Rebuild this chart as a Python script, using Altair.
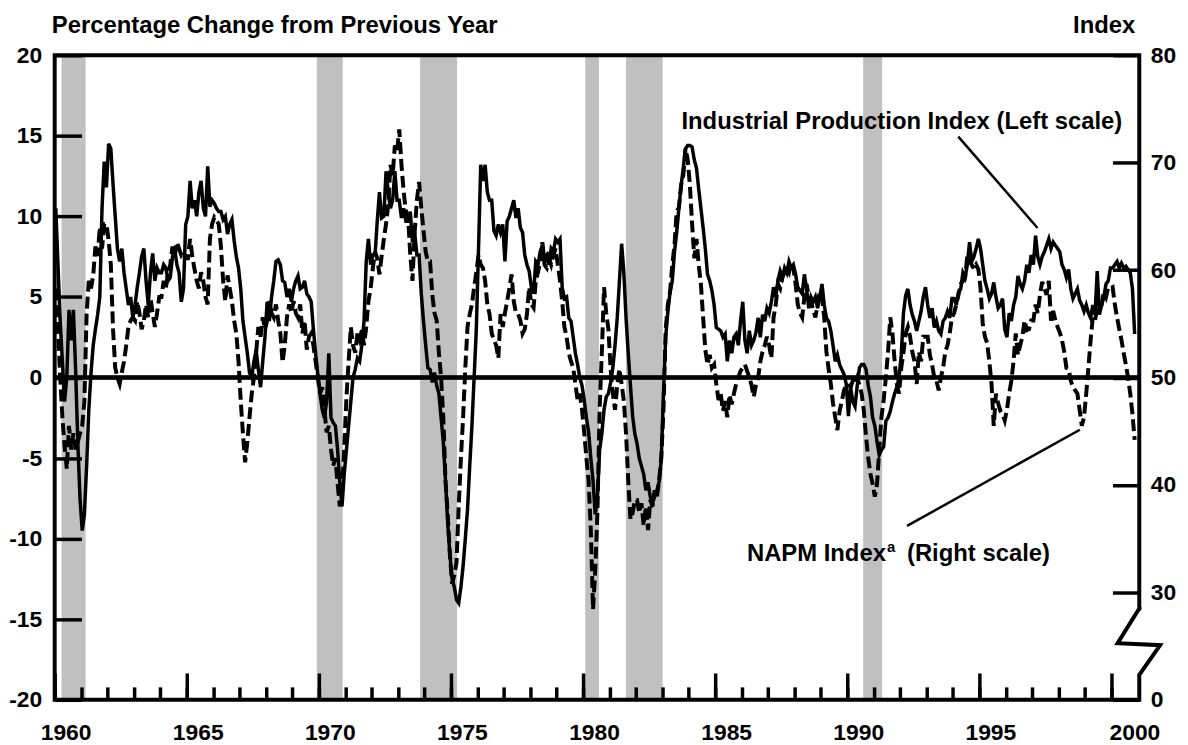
import altair as alt
import pandas as pd

# ---------------- data ----------------
START_YEAR = 1960  # monthly observations, Jan 1960 ... Nov 2000

# Industrial Production Index, % change from previous year (left scale)
ip_growth = [
    10.5, 7.0, 3.5, 1.0, -1.5, 0.0, 4.2, 2.3, 4.2, 0.5, -4.0, -7.5,        # 1960
    -9.5, -8.5, -5.5, -2.0, 0.3, 2.0, 3.0, 3.9, 5.0, 10.5, 13.4, 11.8,      # 1961
    14.5, 14.2, 12.0, 10.0, 8.0, 7.2, 8.0, 6.5, 5.5, 4.5, 5.0, 3.7,         # 1962
    4.5, 5.6, 6.5, 7.5, 8.0, 6.0, 4.5, 6.5, 7.7, 6.0, 6.8, 6.5,             # 1963
    6.5, 7.0, 6.8, 6.0, 6.2, 7.5, 8.0, 7.0, 6.5, 4.7, 5.5, 9.5,             # 1964
    10.0, 12.2, 10.5, 11.0, 10.0, 11.5, 12.2, 10.5, 10.0, 13.1, 10.6, 11.0, # 1965
    10.8, 10.5, 10.3, 10.3, 9.8, 10.0, 8.9, 9.5, 9.8, 8.5, 7.5, 6.8,        # 1966
    5.5, 3.5, 2.5, 1.5, 0.3, 0.0, 1.0, 1.7, 0.5, -0.6, 1.0, 2.5,            # 1967
    4.7, 3.5, 5.0, 6.0, 7.2, 7.3, 7.0, 6.0, 5.9, 5.0, 5.5, 4.7,             # 1968
    5.5, 6.0, 6.3, 5.5, 5.6, 6.0, 5.2, 5.0, 4.7, 3.0, 1.5, 0.2,             # 1969
    -1.0, -2.0, -2.5, -1.5, 1.5, -2.5, -2.8, -3.0, -4.5, -6.5, -8.0, -6.0,  # 1970
    -4.5, -3.0, -1.5, 0.0, 0.5, 1.2, 1.0, 2.0, 3.5, 7.2, 8.6, 7.0,          # 1971
    7.6, 7.6, 9.7, 11.5, 9.9, 10.0, 12.8, 11.5, 10.5, 11.0, 12.8, 11.0,     # 1972
    11.0, 9.9, 10.5, 9.7, 9.7, 10.3, 8.4, 9.0, 7.6, 7.6, 5.2, 3.5,          # 1973
    2.0, 0.6, 0.5, -0.3, 0.3, -0.5, -1.0, -2.5, -4.0, -6.4, -9.0, -11.0,    # 1974
    -12.5, -13.0, -13.8, -14.0, -13.0, -11.7, -10.0, -8.2, -5.5, -3.0, 0.0, 3.0,  # 1975
    8.0, 13.2, 12.2, 13.2, 11.5, 11.0, 11.0, 9.1, 8.8, 9.5, 9.0, 9.5,       # 1976
    7.2, 9.7, 10.0, 10.5, 11.0, 9.9, 10.5, 9.3, 9.0, 7.6, 7.0, 6.6,         # 1977
    5.6, 5.2, 7.2, 7.0, 7.8, 8.2, 7.4, 7.6, 7.0, 8.0, 7.8, 8.6,             # 1978
    8.4, 8.6, 5.6, 4.9, 5.0, 3.7, 3.5, 2.5, 1.5, 0.8, 0.0, -0.5,            # 1979
    -1.4, -2.5, -3.4, -5.0, -6.4, -8.5, -7.5, -4.5, -3.5, -2.0, -1.2, -1.0, # 1980
    -0.3, 0.6, 2.0, 3.7, 6.0, 8.3, 6.5, 3.7, 1.5, -0.5, -2.4, -3.5,         # 1981
    -4.1, -5.0, -5.5, -6.0, -7.0, -6.5, -7.4, -7.8, -7.4, -7.0, -6.5, -5.1, # 1982
    -1.0, 2.5, 4.1, 5.3, 6.0, 7.8, 9.0, 10.5, 11.9, 13.0, 14.2, 14.4,       # 1983
    14.4, 14.3, 13.5, 13.0, 11.7, 10.5, 9.3, 8.0, 6.4, 6.0, 5.4, 4.5,       # 1984
    3.1, 3.0, 2.9, 2.5, 2.7, 1.0, 2.3, 1.5, 2.5, 2.7, 2.0, 3.5,             # 1985
    4.7, 2.3, 1.5, 2.9, 2.0, 2.3, 2.8, 3.7, 2.5, 3.9, 3.5, 4.3,             # 1986
    4.0, 4.7, 5.6, 5.0, 6.0, 6.6, 6.2, 6.8, 6.5, 7.2, 6.8, 7.0,             # 1987
    6.4, 5.6, 5.4, 5.2, 6.4, 5.5, 4.3, 5.0, 4.7, 5.0, 4.3, 5.0,             # 1988
    5.8, 4.5, 3.7, 3.5, 2.9, 2.0, 1.0, 1.4, 0.8, 0.5, 0.2, -0.4,            # 1989
    -2.4, -0.6, -1.5, -1.8, -0.5, 0.6, 0.8, 0.8, 0.5, -0.5, -1.2, -2.5,     # 1990
    -3.0, -4.0, -4.8, -4.5, -4.3, -2.7, -2.5, -2.1, -1.5, -1.0, -0.6, 0.0,  # 1991
    1.4, 4.0, 5.1, 5.5, 4.5, 3.9, 3.5, 2.9, 3.5, 4.1, 5.0, 5.6,             # 1992
    4.5, 3.7, 4.3, 3.1, 3.5, 2.9, 2.7, 3.5, 3.7, 4.1, 3.7, 4.9,             # 1993
    4.9, 4.5, 5.3, 5.5, 6.5, 6.2, 7.0, 8.4, 7.2, 7.5, 8.0, 8.6,             # 1994
    8.0, 7.0, 6.0, 5.5, 4.9, 5.2, 5.9, 5.0, 4.3, 4.5, 4.9, 3.0,             # 1995
    2.5, 4.0, 3.5, 4.5, 5.0, 6.3, 5.8, 5.5, 6.0, 7.0, 6.5, 7.6,             # 1996
    7.0, 8.8, 7.5, 7.0, 7.5, 7.8, 8.2, 8.6, 8.0, 8.4, 8.2, 8.0,             # 1997
    7.8, 7.0, 6.7, 6.2, 6.7, 5.5, 4.9, 5.2, 5.5, 4.8, 4.5, 4.1,             # 1998
    4.5, 4.0, 3.7, 4.5, 3.9, 6.6, 3.9, 4.5, 5.0, 5.8, 6.0, 6.8,             # 1999
    6.8, 7.0, 7.2, 6.8, 7.1, 6.8, 6.9, 6.7, 6.5, 5.5, 2.7,                  # 2000
]

# NAPM index (right scale)
napm_index = [
    58.3, 54.5, 50.0, 46.3, 43.6, 41.5, 45.5, 43.3, 44.8, 43.3, 44.0, 44.8,  # 1960
    45.5, 47.8, 55.9, 59.0, 58.3, 59.5, 62.2, 61.3, 64.0, 62.0, 64.3, 64.3,  # 1961
    62.8, 60.5, 54.5, 50.9, 50.0, 49.4, 50.5, 51.5, 53.0, 54.7, 55.3, 55.6,  # 1962
    55.3, 57.1, 56.0, 54.5, 55.3, 56.8, 55.6, 57.4, 56.0, 54.7, 56.0, 57.5,  # 1963
    57.5, 59.0, 58.3, 59.8, 60.5, 62.2, 61.3, 62.6, 62.0, 61.4, 61.7, 61.1,  # 1964
    61.1, 62.9, 61.3, 60.1, 59.0, 58.3, 59.8, 59.0, 57.5, 56.8, 62.9, 64.3,  # 1965
    64.9, 64.6, 64.3, 62.2, 59.0, 57.1, 59.5, 58.3, 57.1, 55.3, 54.1, 51.5,  # 1966
    47.8, 44.8, 42.1, 44.0, 46.3, 48.5, 50.0, 52.3, 54.7, 53.8, 55.6, 54.5,  # 1967
    55.3, 57.1, 56.0, 55.6, 56.8, 55.3, 54.1, 51.4, 53.0, 55.6, 56.8, 56.0,  # 1968
    57.1, 56.0, 55.6, 56.8, 54.1, 55.3, 52.6, 53.8, 54.1, 53.0, 51.5, 50.0,  # 1969
    48.5, 49.1, 47.0, 44.9, 45.5, 43.3, 41.8, 42.5, 40.1, 38.0, 39.5, 43.4,  # 1970
    48.1, 51.5, 54.7, 53.0, 52.3, 54.1, 53.5, 54.4, 53.0, 54.7, 57.1, 58.3,  # 1971
    60.2, 61.7, 61.1, 59.6, 61.3, 62.9, 64.3, 66.1, 69.8, 68.8, 71.6, 71.0,  # 1972
    73.1, 69.8, 67.3, 65.5, 65.0, 61.4, 59.0, 63.5, 66.5, 68.2, 65.8, 63.7,  # 1973
    61.7, 60.8, 60.8, 57.7, 56.0, 55.3, 52.3, 50.0, 46.3, 40.4, 37.3, 33.5,  # 1974
    30.8, 31.6, 32.8, 38.0, 42.5, 46.3, 50.9, 54.7, 55.9, 56.8, 58.4, 59.8,  # 1975
    61.4, 60.5, 60.2, 59.0, 56.8, 55.9, 54.1, 53.5, 53.0, 51.8, 55.9, 54.7,  # 1976
    56.0, 57.1, 58.3, 59.6, 57.1, 56.0, 55.9, 55.3, 54.1, 54.5, 55.9, 58.4,  # 1977
    56.8, 56.5, 59.0, 59.8, 60.8, 62.6, 60.5, 60.2, 61.1, 60.5, 61.4, 62.0,  # 1978
    60.5, 59.0, 57.1, 54.7, 53.8, 52.3, 51.5, 50.9, 49.4, 47.9, 48.5, 47.0,  # 1979
    44.9, 42.5, 40.4, 35.8, 28.4, 32.0, 37.4, 47.0, 52.3, 58.4, 56.0, 54.5,  # 1980
    50.8, 48.5, 47.0, 49.3, 50.8, 49.4, 47.8, 44.8, 40.4, 36.8, 37.4, 38.6,  # 1981
    38.6, 37.4, 38.3, 36.2, 38.0, 35.8, 38.6, 38.0, 39.5, 38.8, 40.4, 42.5,  # 1982
    47.0, 54.5, 56.8, 58.0, 60.5, 62.3, 65.5, 65.8, 67.9, 68.8, 71.3, 70.3,  # 1983
    67.9, 64.3, 61.1, 62.9, 60.5, 58.7, 55.6, 52.6, 51.2, 52.1, 50.9, 51.2,  # 1984
    49.4, 47.9, 48.5, 46.9, 47.8, 46.3, 48.4, 47.5, 48.5, 49.4, 50.0, 50.6,  # 1985
    50.9, 51.2, 50.6, 50.0, 49.3, 48.2, 49.3, 50.0, 51.5, 52.4, 53.0, 53.8,  # 1986
    53.0, 51.8, 55.6, 56.8, 58.7, 58.3, 59.3, 59.8, 60.2, 59.8, 60.8, 60.2,  # 1987
    58.7, 56.8, 56.0, 55.6, 57.5, 58.7, 57.5, 57.1, 56.3, 55.6, 56.8, 58.0,  # 1988
    57.5, 55.6, 52.4, 50.8, 49.4, 47.6, 46.3, 45.1, 46.9, 47.8, 48.8, 49.3,  # 1989
    49.4, 49.1, 49.7, 49.4, 50.0, 49.3, 48.5, 46.9, 44.5, 42.5, 41.0, 40.1,  # 1990
    38.9, 40.1, 43.3, 46.3, 47.9, 50.0, 52.4, 55.6, 54.1, 51.5, 49.4, 48.5,  # 1991
    50.9, 52.3, 54.1, 54.7, 53.8, 52.4, 51.5, 49.4, 52.4, 51.5, 53.8, 53.8,  # 1992
    53.8, 52.1, 51.2, 50.0, 49.7, 48.8, 50.0, 50.9, 52.4, 53.0, 54.1, 55.6,  # 1993
    56.0, 56.8, 57.7, 58.7, 59.0, 59.3, 61.4, 60.8, 60.5, 60.1, 60.5, 60.1,  # 1994
    58.3, 55.0, 53.8, 53.2, 51.5, 49.4, 45.5, 48.5, 47.6, 46.9, 46.6, 46.0,  # 1995
    47.0, 48.5, 49.7, 51.5, 54.1, 52.1, 53.0, 53.8, 55.3, 54.4, 54.5, 55.3,  # 1996
    55.3, 56.8, 56.0, 57.7, 58.9, 58.3, 57.7, 59.0, 55.3, 56.2, 55.3, 54.7,  # 1997
    54.2, 53.5, 52.4, 50.9, 50.8, 49.7, 49.1, 48.8, 48.5, 47.0, 45.5, 46.3,  # 1998
    48.5, 50.9, 53.5, 55.6, 55.3, 56.5, 56.8, 56.8, 58.0, 57.5, 58.4, 58.3,  # 1999
    58.4, 56.8, 55.6, 54.5, 53.5, 52.3, 51.2, 50.0, 48.5, 46.6, 44.2,        # 2000
]

# recessions (shaded), in fractional years
recession_start = [1960.26, 1969.92, 1973.83, 1980.08, 1981.62, 1990.60]
recession_end = [1961.17, 1970.90, 1975.23, 1980.60, 1983.01, 1991.32]

year_ticks = list(range(1960, 2001))
year_labels = list(range(1960, 2001, 5))
left_ticks = [-20, -15, -10, -5, 0, 5, 10, 15, 20]
right_ticks = [20, 30, 40, 50, 60, 70, 80]

# ---------------- tables ----------------
months = [START_YEAR + (i + 0.5) / 12 for i in range(len(ip_growth))]
series = pd.DataFrame({"year": months, "ip": ip_growth, "napm": napm_index})
recessions = pd.DataFrame({"start": recession_start, "end": recession_end})

X_MIN, X_MAX = 1960.0, 2001.05
FONT = "Liberation Sans"

x_scale = alt.Scale(domain=[X_MIN, X_MAX], nice=False, zero=False)
yl_scale = alt.Scale(domain=[-20, 20], nice=False, zero=False)
yr_scale = alt.Scale(domain=[20, 80], nice=False, zero=False)

minor_axis = alt.Axis(orient="bottom", values=year_ticks, tickSize=13, offset=-13,
                      labels=False, domain=False, grid=False, title=None,
                      tickColor="black", tickWidth=3.5, zindex=2)
major_axis = alt.Axis(orient="bottom", values=year_labels, tickSize=27, offset=-27,
                      labelPadding=22, format="d", domain=False, grid=False, title=None,
                      tickColor="black", tickWidth=3.5, zindex=2,
                      labelFont=FONT, labelFontWeight="bold", labelFontSize=23,
                      labelColor="black", labelBaseline="top", labelAlign="center",
                      labelOffset={"condition": {"test": "datum.value == 2000", "value": 23},
                                   "value": 11})
left_axis = alt.Axis(orient="left", values=left_ticks, tickSize=27, offset=-27,
                     labelPadding=13, domain=False, grid=False, title=None,
                     tickColor="black", tickWidth=3.5, zindex=2,
                     labelFont=FONT, labelFontWeight="bold", labelFontSize=23,
                     labelColor="black", labelExpr="'' + datum.value")
right_axis = alt.Axis(orient="right", values=right_ticks, tickSize=27, offset=-27,
                      labelPadding=11, domain=False, grid=False, title=None,
                      tickColor="black", tickWidth=3.5, zindex=2,
                      labelFont=FONT, labelFontWeight="bold", labelFontSize=23,
                      labelColor="black",
                      labelExpr="datum.value == 20 ? '0' : '' + datum.value")

bands = alt.Chart(recessions).mark_rect(color="#c0c0c0").encode(
    x=alt.X("start:Q", scale=x_scale, axis=minor_axis),
    x2="end:Q",
    y=alt.Y(datum=-20, scale=yl_scale, axis=None),
    y2=alt.Y2(datum=20),
)

zero_line = alt.Chart(recessions).mark_rule(color="black", strokeWidth=3.5).encode(
    x=alt.X(datum=X_MIN, scale=x_scale, axis=None),
    x2=alt.X2(datum=X_MAX),
    y=alt.Y(datum=0, scale=yl_scale, axis=None),
)

napm_line = alt.Chart(series).mark_line(
    color="black", strokeWidth=4, strokeDash=[12, 5], strokeJoin="miter"
).encode(
    x=alt.X("year:Q", scale=x_scale, axis=None),
    y=alt.Y("napm:Q", scale=yr_scale, axis=right_axis),
)

ip_line = alt.Chart(series).mark_line(
    color="black", strokeWidth=3.5, strokeJoin="miter"
).encode(
    x=alt.X("year:Q", scale=x_scale, axis=major_axis),
    y=alt.Y("ip:Q", scale=yl_scale, axis=left_axis),
)


def text_layer(label, x, y, align="left", size=24):
    return alt.Chart(recessions).transform_filter("datum.start < 1961").mark_text(
        text=label, align=align, baseline="alphabetic", font=FONT,
        fontWeight="bold", fontSize=size, color="black"
    ).encode(
        x=alt.X(datum=x, scale=x_scale, axis=None),
        y=alt.Y(datum=y, scale=yl_scale, axis=None),
    )


def leader(x1, y1, x2, y2):
    return alt.Chart(recessions).transform_filter("datum.start < 1961").mark_rule(
        color="black", strokeWidth=2.5
    ).encode(
        x=alt.X(datum=x1, scale=x_scale, axis=None),
        x2=alt.X2(datum=x2),
        y=alt.Y(datum=y1, scale=yl_scale, axis=None),
        y2=alt.Y2(datum=y2),
    )


# plot frame, with the scale break on the right-hand axis
frame_x = [X_MAX, X_MAX, X_MIN, X_MIN, X_MAX, X_MAX, 2001.84, 2000.23, X_MAX]
frame_y = [-14.33, 20, 20, -20, -20, -18.46, -16.61, -16.49, -14.33]
frame = alt.Chart(pd.DataFrame({"i": range(len(frame_x)), "fx": frame_x, "fy": frame_y})).mark_line(
    color="black", strokeWidth=4, strokeJoin="miter", strokeCap="square"
).encode(
    x=alt.X("fx:Q", scale=x_scale, axis=None),
    y=alt.Y("fy:Q", scale=yl_scale, axis=None),
    order="i:O",
)

chart = alt.layer(
    bands,
    zero_line,
    napm_line,
    ip_line,
    text_layer("Percentage Change from Previous Year", 1959.89, 21.36),
    text_layer("Index", 2000.90, 21.36, align="right"),
    text_layer("Industrial Production Index (Left scale)", 1983.72, 15.44),
    text_layer("NAPM Index", 1986.20, -11.37),
    text_layer("a", 1991.50, -10.82, size=15),
    text_layer("(Right scale)", 1997.67, -11.37, align="right"),
    leader(1994.20, 14.95, 1997.20, 9.28),
    leader(1992.26, -9.21, 1998.80, -3.24),
    frame,
).resolve_scale(
    y="independent"
).resolve_axis(
    x="independent"
).properties(
    width=1092,
    height=649,
    padding={"left": 47, "top": 45, "right": 41, "bottom": 45},
    autosize=alt.AutoSizeParams(type="none"),
).configure_view(
    stroke=None
)

chart.save("out.html", embed_options={"renderer": "svg", "actions": False})
